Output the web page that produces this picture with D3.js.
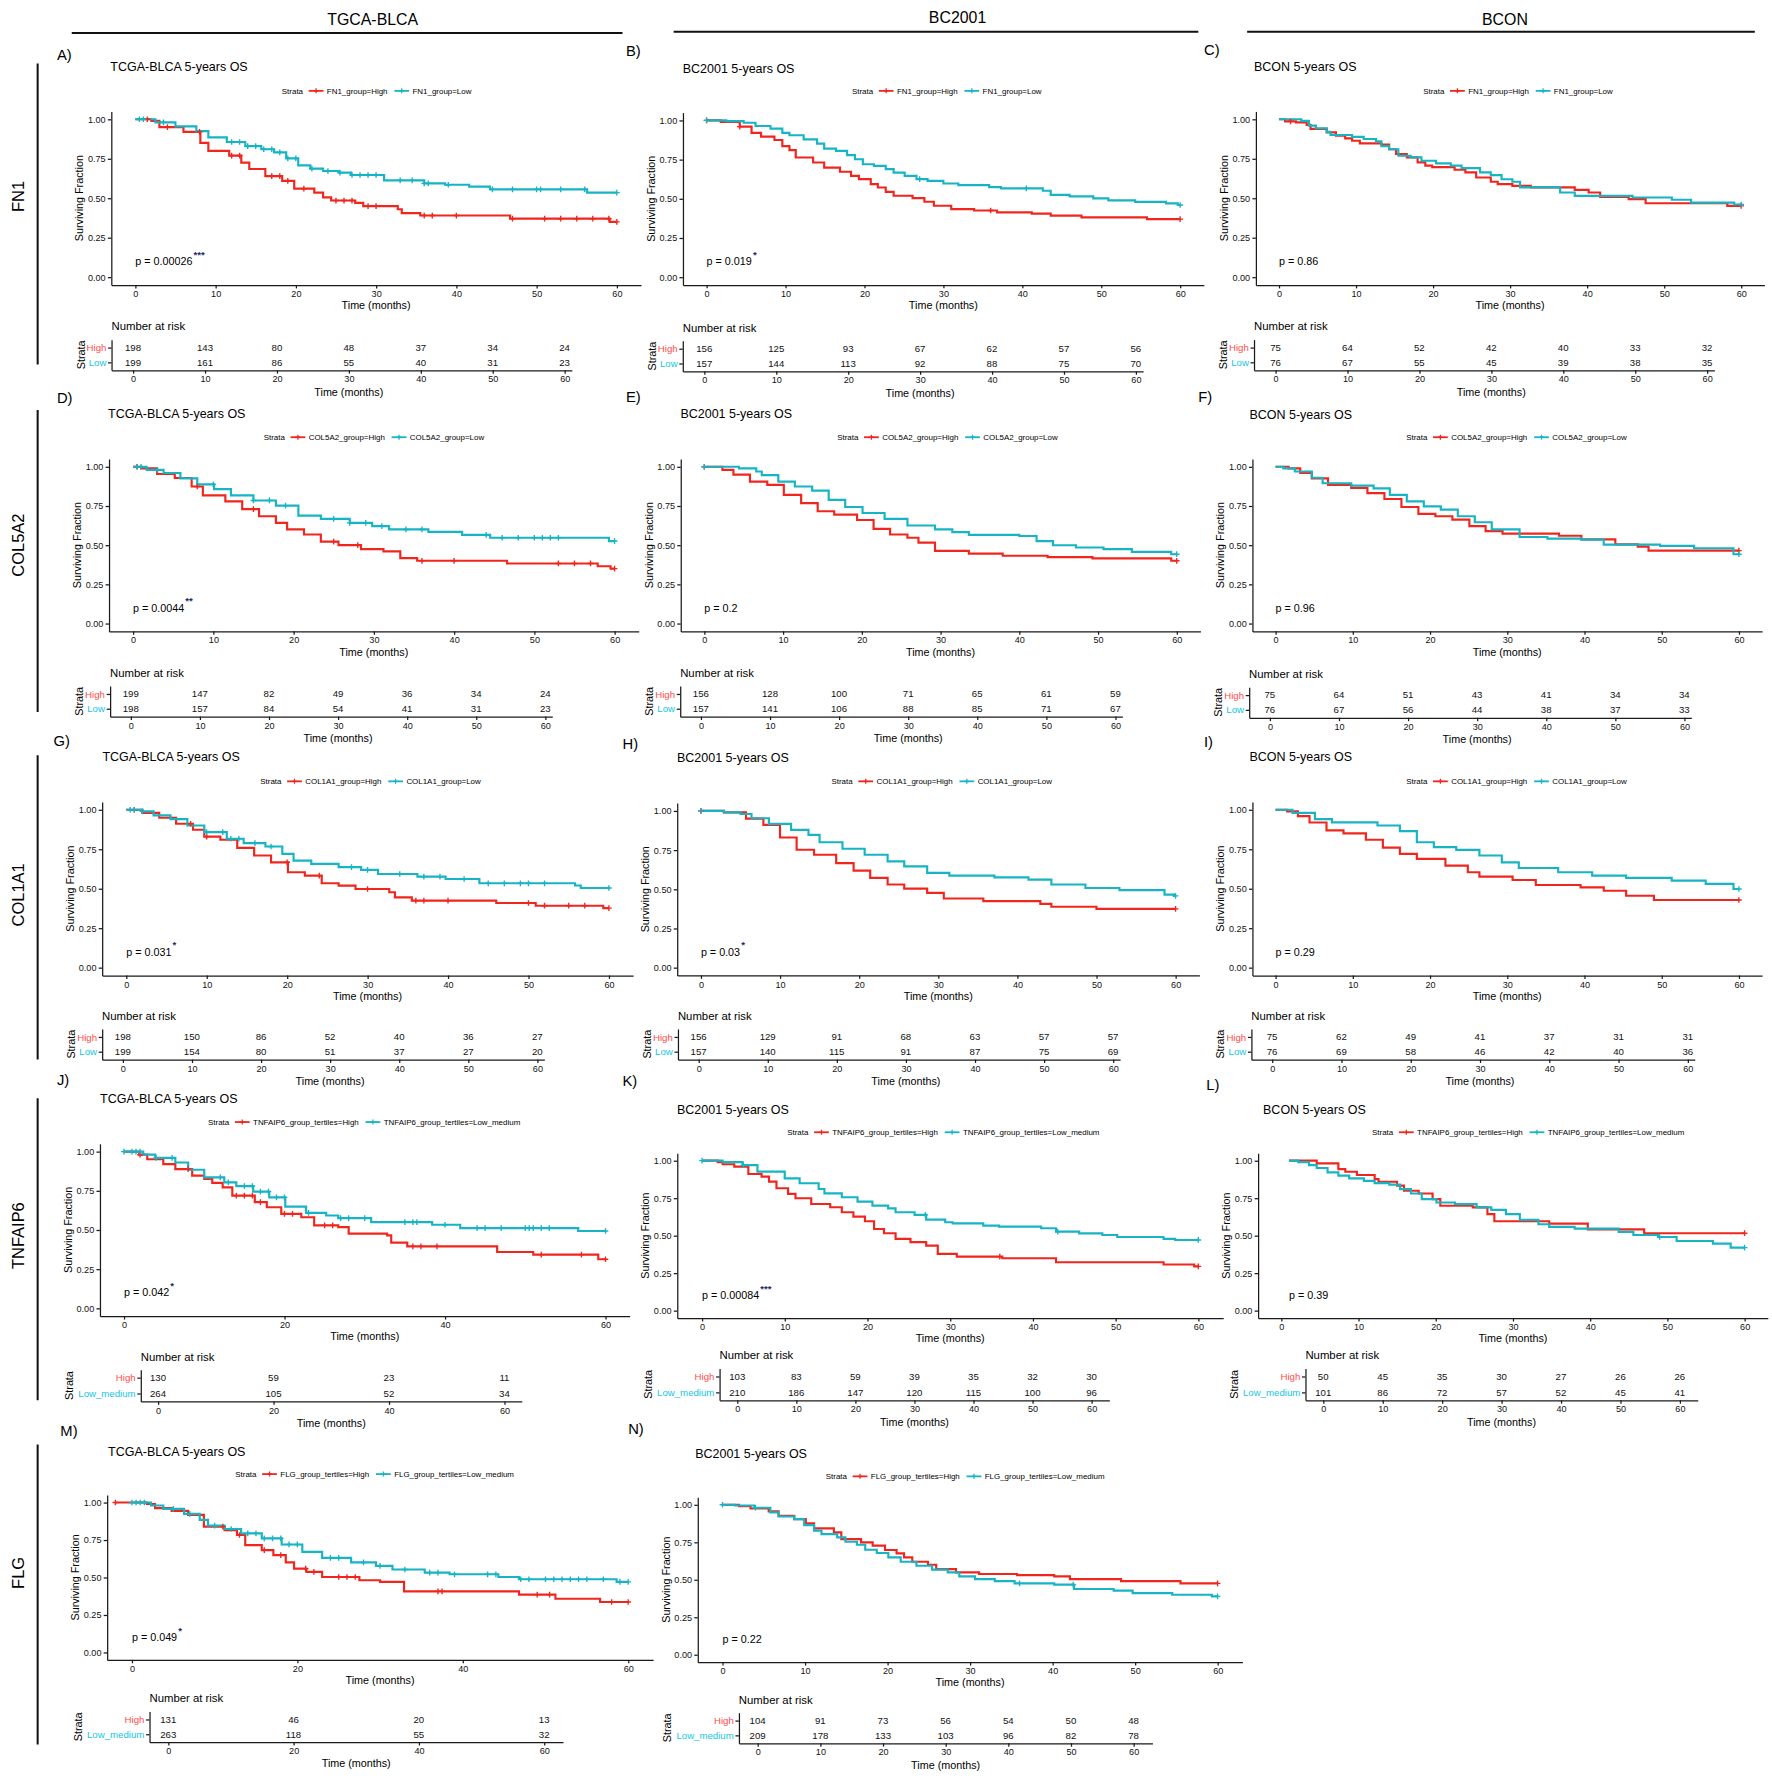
<!DOCTYPE html>
<html>
<head>
<meta charset="utf-8">
<script src="https://cdn.jsdelivr.net/npm/d3@7"></script>
<style>
  body { margin: 0; background: #fff; }
</style>
</head>
<body>
<div id="root"></div>
<script>
// ---- tick values / labels ----
const riskTimes = [0, 10, 20, 30, 40, 50, 60]
const riskTimesWide = [0, 20, 40, 60]
const yTicks = [0, 0.25, 0.5, 0.75, 1]
const cohorts = ['TGCA-BLCA', 'BC2001', 'BCON']
const cohortTitles = ['TCGA-BLCA', 'BC2001', 'BCON']
const genes = ['FN1', 'COL5A2', 'COL1A1', 'TNFAIP6', 'FLG']

// ---- KM curves: [months, surviving fraction], step after ----
const fn1TcgaHigh = [[0,1],[2,0.99],[3,0.95],[6,0.92],[8.1,0.85],[9.1,0.8],[11.7,0.77],[13.2,0.725],[14.2,0.685],[16.2,0.64],[18.3,0.61],[19.8,0.56],[22.3,0.535],[23.4,0.505],[24.4,0.485],[27.4,0.47],[28.4,0.45],[32.7,0.43],[33.2,0.405],[35.5,0.39],[46.7,0.37],[59.1,0.35],[60,0.35]]
const fn1TcgaLow = [[0,1],[2.5,0.98],[5,0.955],[7.6,0.925],[9.1,0.885],[11.4,0.856],[13.7,0.83],[15.7,0.81],[17.3,0.79],[18.8,0.752],[20.3,0.708],[21.8,0.687],[23.4,0.672],[25.4,0.662],[26.9,0.647],[31,0.613],[36,0.594],[38.6,0.585],[41.6,0.573],[44.2,0.556],[56.3,0.535],[60,0.535]]
const fn1BcHigh = [[0,1],[1.8,0.99],[4.2,0.96],[5.7,0.92],[6.9,0.896],[8.6,0.875],[9.6,0.836],[10.5,0.81],[11.3,0.763],[13.5,0.731],[14.9,0.699],[16.9,0.672],[18.3,0.646],[19.3,0.625],[20.8,0.593],[21.7,0.572],[22.7,0.544],[23.7,0.519],[26.1,0.504],[27.6,0.481],[28.8,0.455],[31,0.434],[33.9,0.425],[36.8,0.413],[41.2,0.405],[43.6,0.392],[47.5,0.381],[55.8,0.37],[60,0.37]]
const fn1BcLow = [[0,1],[2.5,0.995],[4.7,0.985],[6.2,0.964],[8.1,0.947],[9.6,0.92],[10.5,0.905],[12.3,0.879],[14,0.852],[14.9,0.82],[16.4,0.805],[17.8,0.778],[18.8,0.752],[19.8,0.72],[21.2,0.71],[22.7,0.689],[23.7,0.667],[25.1,0.646],[26.6,0.625],[28,0.614],[30,0.597],[31.9,0.587],[35.8,0.574],[37.3,0.566],[42.6,0.551],[43.6,0.525],[46,0.515],[49,0.502],[50.9,0.49],[54.3,0.48],[58.2,0.47],[59.7,0.46],[60,0.46]]
const fn1BconHigh = [[0,1],[0.8,0.987],[2.2,0.98],[3.6,0.964],[4.1,0.939],[6.2,0.917],[7.4,0.896],[8.6,0.879],[9.5,0.864],[10.5,0.847],[13.3,0.839],[14.3,0.81],[15.2,0.78],[16.6,0.758],[18,0.727],[19,0.706],[19.9,0.697],[22.8,0.68],[24.2,0.663],[25.6,0.631],[27.5,0.604],[28.4,0.589],[30.3,0.578],[32.7,0.568],[38.4,0.553],[40.2,0.536],[41.7,0.508],[45.4,0.494],[47.6,0.468],[58.2,0.451],[60,0.451]]
const fn1BconLow = [[0,1],[2.9,0.99],[3.9,0.96],[4.8,0.943],[6.2,0.92],[6.7,0.9],[9.5,0.888],[11,0.875],[12.6,0.86],[13.3,0.83],[14.3,0.81],[15.5,0.769],[17.1,0.758],[18.5,0.737],[20.4,0.72],[22.3,0.706],[23.7,0.69],[26.1,0.663],[27.5,0.646],[28.9,0.62],[30.3,0.604],[31.3,0.568],[36.5,0.536],[38.4,0.515],[45.9,0.504],[51,0.49],[53.5,0.472],[59.1,0.46],[60,0.46]]

const col5a2TcgaHigh = [[0,1],[1,0.99],[3,0.954],[5.2,0.928],[7.3,0.874],[8.7,0.817],[11.5,0.779],[13.6,0.73],[15.7,0.684],[17.8,0.642],[19.2,0.6],[21.3,0.568],[23.4,0.522],[25.6,0.5],[28.4,0.474],[31.2,0.46],[33.3,0.417],[35.4,0.4],[46.6,0.383],[57.9,0.365],[59.5,0.35],[60,0.35]]
const col5a2TcgaLow = [[0,1],[1.7,0.98],[3.8,0.96],[5.9,0.926],[8,0.888],[10.1,0.857],[12.2,0.817],[15,0.785],[17.8,0.752],[20.6,0.688],[23.4,0.667],[27,0.642],[29.8,0.621],[31.9,0.6],[36.8,0.585],[41,0.565],[44.5,0.547],[59.3,0.526],[60,0.526]]
const col5a2BcHigh = [[0,1],[2.3,0.98],[3.7,0.95],[5.8,0.905],[8,0.884],[10.1,0.821],[12.3,0.768],[14.4,0.716],[16.5,0.695],[19.4,0.66],[21.5,0.604],[23.6,0.568],[25.8,0.547],[27.2,0.516],[29.3,0.463],[33.6,0.446],[37.9,0.432],[43.6,0.423],[49.3,0.415],[59.3,0.4],[60,0.4]]
const col5a2BcLow = [[0,1],[4.4,0.99],[6.6,0.97],[7.3,0.947],[9.4,0.905],[11.5,0.874],[13.7,0.848],[15.8,0.789],[17.9,0.743],[20.1,0.705],[22.9,0.667],[25.8,0.625],[29.3,0.6],[31.5,0.583],[33.6,0.565],[40,0.558],[42.2,0.526],[44.3,0.499],[47.2,0.485],[50.7,0.474],[54.3,0.457],[59.3,0.442],[60,0.442]]
const col5a2BconHigh = [[0,1],[1.7,0.99],[3.2,0.96],[4.7,0.926],[6.8,0.884],[9.8,0.865],[11.9,0.832],[14.1,0.794],[16.3,0.743],[18.5,0.699],[20.7,0.684],[22.9,0.663],[25.1,0.621],[27.2,0.589],[29.4,0.573],[36.7,0.56],[39.6,0.537],[44,0.505],[46.9,0.49],[48.3,0.465],[60,0.465]]
const col5a2BconLow = [[0,1],[1,0.99],[2.5,0.97],[4.7,0.93],[6.1,0.895],[9.8,0.88],[12.7,0.862],[14.8,0.821],[17,0.779],[19.2,0.747],[21.4,0.726],[23.6,0.684],[25.8,0.646],[28,0.6],[31.6,0.552],[35.2,0.541],[39.6,0.535],[42.5,0.503],[49.8,0.495],[54.2,0.48],[59.3,0.442],[60,0.442]]

const col1a1TcgaHigh = [[0,1],[2,0.98],[4.1,0.949],[6.2,0.911],[8.3,0.873],[9.7,0.83],[11.7,0.81],[13.8,0.758],[15.9,0.71],[18,0.667],[20.1,0.604],[22.2,0.583],[24.3,0.534],[26.4,0.519],[28.5,0.498],[32.7,0.477],[33.4,0.445],[35.5,0.424],[46,0.409],[50.9,0.392],[59.3,0.377],[60,0.377]]
const col1a1TcgaLow = [[0,1],[2,0.99],[3.4,0.964],[5.5,0.94],[7.6,0.9],[9.7,0.858],[12.5,0.816],[14.6,0.788],[17.3,0.767],[19.4,0.72],[20.8,0.678],[23,0.657],[26.4,0.636],[29.2,0.619],[31.3,0.593],[36.2,0.576],[39.7,0.561],[43.9,0.534],[55.8,0.52],[56.5,0.504],[60,0.504]]
const col1a1BcHigh = [[0,1],[2.9,0.99],[5.7,0.95],[7.9,0.911],[10,0.83],[12.1,0.752],[14.3,0.72],[17.1,0.667],[19.3,0.619],[21.4,0.572],[23.6,0.53],[25.7,0.504],[28.6,0.477],[30.7,0.441],[35.7,0.424],[42.9,0.407],[44.3,0.388],[50,0.375],[60,0.375]]
const col1a1BcLow = [[0,1],[2.9,0.99],[5,0.98],[6.4,0.953],[8.6,0.917],[11.4,0.879],[13.6,0.847],[15,0.8],[17.9,0.758],[20.7,0.72],[23.6,0.678],[25.7,0.646],[28.6,0.604],[31.4,0.587],[37.1,0.576],[41.4,0.561],[44.3,0.53],[48.6,0.508],[52.9,0.494],[58.6,0.466],[59.8,0.458],[60,0.458]]
const col1a1BconHigh = [[0,1],[1.5,0.99],[2.9,0.96],[4.4,0.919],[6.6,0.869],[8.8,0.85],[11.7,0.81],[13.9,0.76],[16.1,0.72],[18.3,0.689],[22,0.646],[24.9,0.604],[26.4,0.576],[30.7,0.555],[33.7,0.523],[39.5,0.508],[42.5,0.487],[45.4,0.455],[49,0.428],[60,0.428]]
const col1a1BconLow = [[0,1],[2.2,0.98],[5.1,0.94],[7.3,0.92],[13.2,0.9],[16.1,0.864],[18.3,0.794],[20.5,0.763],[23.4,0.746],[26.4,0.71],[29.3,0.667],[31.5,0.631],[36.6,0.604],[41,0.583],[45.4,0.568],[51.3,0.551],[55.7,0.53],[59.3,0.498],[60,0.498]]

const tnfTcgaHigh = [[0,1],[1.9,0.98],[2.9,0.951],[4.9,0.92],[6.4,0.888],[8.5,0.846],[10,0.825],[11,0.8],[12.3,0.772],[13.5,0.719],[16.3,0.677],[17.8,0.645],[19.6,0.602],[22.1,0.581],[23.7,0.529],[26.7,0.518],[28,0.476],[32.8,0.465],[33.3,0.419],[35.3,0.395],[46.5,0.359],[51,0.342],[59.1,0.313],[60,0.313]]
const tnfTcgaLow = [[0,1],[2.4,0.98],[3.9,0.96],[6.4,0.93],[8,0.884],[10,0.835],[12.5,0.803],[14,0.78],[16.1,0.744],[18.1,0.708],[20.1,0.649],[22.7,0.609],[25.2,0.592],[26.7,0.575],[30.8,0.55],[38.4,0.533],[41.9,0.512],[56.6,0.493],[60,0.493]]
const tnfBcHigh = [[0,1],[1.9,0.99],[2.5,0.976],[3.9,0.96],[5.6,0.911],[7.2,0.893],[8.1,0.86],[9,0.816],[10.4,0.778],[11.3,0.749],[13.2,0.711],[15.5,0.689],[16.9,0.656],[18.3,0.627],[19.7,0.596],[20.8,0.544],[22,0.516],[23.4,0.478],[25.2,0.456],[27.1,0.433],[28.5,0.378],[30.8,0.36],[36.3,0.349],[42.8,0.322],[55.8,0.307],[59.5,0.295],[60,0.295]]
const tnfBcLow = [[0,1],[2.5,0.99],[4.9,0.97],[6.7,0.927],[10,0.882],[11.8,0.849],[14.1,0.811],[14.8,0.782],[16.9,0.756],[18.8,0.727],[20.6,0.7],[22.5,0.682],[23.4,0.656],[25.7,0.638],[27.1,0.607],[29.4,0.589],[30.3,0.582],[34,0.567],[35.9,0.56],[41,0.549],[42.8,0.527],[45.6,0.515],[48.4,0.504],[50.2,0.491],[55.8,0.478],[57.2,0.471],[60,0.471]]
const tnfBconHigh = [[1,1],[4.6,0.982],[7.4,0.944],[8.3,0.926],[9.8,0.904],[12.1,0.877],[12.6,0.859],[15,0.833],[15.9,0.799],[17.8,0.781],[19.6,0.743],[20.6,0.699],[24.8,0.688],[26.7,0.643],[27.6,0.596],[34.7,0.58],[39.7,0.542],[47,0.516],[60,0.516]]
const tnfBconLow = [[1,1],[2.2,0.99],[3.6,0.97],[4.6,0.951],[6,0.922],[7.4,0.9],[8.8,0.882],[10.7,0.865],[12.1,0.85],[14,0.84],[15.4,0.81],[16.8,0.781],[18.2,0.743],[20.1,0.721],[22.5,0.71],[25.3,0.688],[27.2,0.672],[29.1,0.643],[30.9,0.605],[33.3,0.576],[34.7,0.558],[38,0.547],[43.7,0.525],[45.6,0.504],[48.8,0.491],[51.2,0.464],[55.9,0.446],[58.2,0.42],[60,0.42]]

const flgTcgaHigh = [[-2,1],[1.8,0.99],[2.8,0.962],[4.8,0.944],[6.8,0.917],[8.7,0.839],[11.2,0.816],[12.7,0.783],[13.7,0.716],[15.7,0.682],[17.1,0.649],[18.6,0.6],[19.6,0.559],[21.1,0.537],[23,0.503],[27.5,0.481],[30,0.47],[32.9,0.407],[46.8,0.385],[51.2,0.358],[56.6,0.336],[60,0.336]]
const flgTcgaLow = [[0.3,1],[2.3,0.98],[3.8,0.957],[6.3,0.924],[8.2,0.884],[9.2,0.846],[11.2,0.823],[13.2,0.794],[15.7,0.761],[18.1,0.72],[20.6,0.671],[23,0.631],[26.5,0.6],[29.5,0.577],[31.5,0.553],[35.4,0.532],[38.4,0.521],[44.3,0.503],[46.8,0.488],[58.6,0.47],[60,0.47]]
const flgBcHigh = [[0,1],[2,0.99],[3.4,0.975],[5.6,0.956],[6.8,0.927],[8.7,0.904],[10.1,0.876],[11.1,0.842],[13.5,0.816],[14.4,0.771],[16.8,0.749],[18.2,0.727],[19.7,0.698],[21.1,0.676],[22,0.649],[23,0.62],[24.9,0.6],[25.9,0.571],[28.3,0.549],[31.1,0.538],[35.7,0.531],[40.2,0.522],[42.1,0.504],[48.3,0.491],[55.5,0.476],[60,0.476]]
const flgBcLow = [[0,1],[1.5,0.995],[3.9,0.98],[5.8,0.949],[6.8,0.922],[8.7,0.904],[9.9,0.864],[11.1,0.827],[12,0.804],[13.9,0.782],[14.9,0.753],[16.3,0.733],[17.3,0.7],[18.7,0.678],[20.1,0.649],[21.6,0.62],[23.5,0.593],[25.4,0.567],[27.3,0.549],[28.7,0.522],[30.6,0.504],[33,0.491],[35.4,0.476],[40.2,0.467],[42.6,0.438],[47.4,0.427],[49.7,0.411],[54.5,0.4],[59.3,0.389],[60,0.389]]

// ---- censor times (months) ----
const censFn1TcgaHigh = [1.5, 4, 8, 12, 13, 17, 18, 19, 21, 25, 26, 27, 29, 30, 36, 37, 40, 47, 51, 53, 55, 57, 59, 60]
const censFn1TcgaLow = [0.5, 1, 3.5, 12, 13, 14, 15, 16, 17, 18, 19, 20, 22, 24, 25.5, 27, 28, 29, 30, 33, 34.5, 36, 36.5, 39, 44.5, 47, 50, 50.5, 53, 56, 60]
const censFn1BcHigh = [0, 4.2, 36, 60]
const censFn1BcLow = [0, 27, 40.5, 60]
const censFn1BconHigh = [1.5, 60]
const censFn1BconLow = [60]
const censCol5a2TcgaHigh = [0.5, 8, 15, 25, 28, 36, 40, 53, 55, 57, 60]
const censCol5a2TcgaLow = [0.5, 1, 3, 10, 15, 17, 19, 25, 27, 29, 31, 34, 36, 44, 46, 48, 50, 51, 52, 53, 60]
const censCol5a2BcHigh = [0, 60]
const censCol5a2BcLow = [0, 60]
const censCol5a2BconHigh = [60]
const censCol5a2BconLow = [60]
const censCol1a1TcgaHigh = [1, 8, 10, 20, 24, 30, 36, 37, 40, 50, 52, 55, 57, 60]
const censCol1a1TcgaLow = [0.5, 1, 2, 10, 12, 13, 14, 16, 18, 28, 30, 34, 37, 39, 42, 45, 47, 49, 50, 52, 60]
const censCol1a1BcHigh = [0, 60]
const censCol1a1BcLow = [0, 60]
const censCol1a1BconHigh = [60]
const censCol1a1BconLow = [60]
const censTnfTcgaHigh = [2, 8, 14, 15, 16, 17, 20, 21, 25, 26, 36, 37, 39, 52, 57, 60]
const censTnfTcgaLow = [0, 1, 1.5, 2, 4, 6, 12, 13, 15, 16, 17, 18, 19, 20, 23, 27, 28, 30, 35, 36, 36.5, 40, 44, 45, 47, 50, 50.5, 51, 52, 53, 60]
const censTnfBcHigh = [36, 60]
const censTnfBcLow = [0, 5, 27, 43, 60]
const censTnfBconHigh = [60]
const censTnfBconLow = [49, 60]
const censFlgTcgaHigh = [-2, 11, 13, 16, 18, 21, 22, 25, 26, 27, 37, 37.5, 49, 50.5, 58, 60]
const censFlgTcgaLow = [0, 0.5, 1, 1.5, 5, 7, 10, 12, 14, 15, 16, 17, 18, 19, 20, 24, 25, 28, 30, 33, 36, 37, 39, 43, 44, 47, 48, 50, 51, 52, 53, 54, 55, 57, 59, 60]
const censFlgBcHigh = [60]
const censFlgBcLow = [0, 4, 36, 42.5, 60]

// ---- numbers at risk ----
const riskFn1TcgaHigh = [198, 143, 80, 48, 37, 34, 24]
const riskFn1TcgaLow = [199, 161, 86, 55, 40, 31, 23]
const riskFn1BcHigh = [156, 125, 93, 67, 62, 57, 56]
const riskFn1BcLow = [157, 144, 113, 92, 88, 75, 70]
const riskFn1BconHigh = [75, 64, 52, 42, 40, 33, 32]
const riskFn1BconLow = [76, 67, 55, 45, 39, 38, 35]
const riskCol5a2TcgaHigh = [199, 147, 82, 49, 36, 34, 24]
const riskCol5a2TcgaLow = [198, 157, 84, 54, 41, 31, 23]
const riskCol5a2BcHigh = [156, 128, 100, 71, 65, 61, 59]
const riskCol5a2BcLow = [157, 141, 106, 88, 85, 71, 67]
const riskCol5a2BconHigh = [75, 64, 51, 43, 41, 34, 34]
const riskCol5a2BconLow = [76, 67, 56, 44, 38, 37, 33]
const riskCol1a1TcgaHigh = [198, 150, 86, 52, 40, 36, 27]
const riskCol1a1TcgaLow = [199, 154, 80, 51, 37, 27, 20]
const riskCol1a1BcHigh = [156, 129, 91, 68, 63, 57, 57]
const riskCol1a1BcLow = [157, 140, 115, 91, 87, 75, 69]
const riskCol1a1BconHigh = [75, 62, 49, 41, 37, 31, 31]
const riskCol1a1BconLow = [76, 69, 58, 46, 42, 40, 36]
const riskTnfTcgaHigh = [130, 59, 23, 11]
const riskTnfTcgaLow = [264, 105, 52, 34]
const riskTnfBcHigh = [103, 83, 59, 39, 35, 32, 30]
const riskTnfBcLow = [210, 186, 147, 120, 115, 100, 96]
const riskTnfBconHigh = [50, 45, 35, 30, 27, 26, 26]
const riskTnfBconLow = [101, 86, 72, 57, 52, 45, 41]
const riskFlgTcgaHigh = [131, 46, 20, 13]
const riskFlgTcgaLow = [263, 118, 55, 32]
const riskFlgBcHigh = [104, 91, 73, 56, 54, 50, 48]
const riskFlgBcLow = [209, 178, 133, 103, 96, 82, 78]

// ---- log-rank p values ----
const pValues = ['p = 0.00026', 'p = 0.019', 'p = 0.86', 'p = 0.0044', 'p = 0.2', 'p = 0.96', 'p = 0.031', 'p = 0.03', 'p = 0.29', 'p = 0.042', 'p = 0.00084', 'p = 0.39', 'p = 0.049', 'p = 0.22']
const pStars = ['***', '*', '', '**', '', '', '*', '*', '', '*', '***', '', '*', '']

const series = [
  [fn1TcgaHigh, fn1TcgaLow, censFn1TcgaHigh, censFn1TcgaLow, riskFn1TcgaHigh, riskFn1TcgaLow],
  [fn1BcHigh, fn1BcLow, censFn1BcHigh, censFn1BcLow, riskFn1BcHigh, riskFn1BcLow],
  [fn1BconHigh, fn1BconLow, censFn1BconHigh, censFn1BconLow, riskFn1BconHigh, riskFn1BconLow],
  [col5a2TcgaHigh, col5a2TcgaLow, censCol5a2TcgaHigh, censCol5a2TcgaLow, riskCol5a2TcgaHigh, riskCol5a2TcgaLow],
  [col5a2BcHigh, col5a2BcLow, censCol5a2BcHigh, censCol5a2BcLow, riskCol5a2BcHigh, riskCol5a2BcLow],
  [col5a2BconHigh, col5a2BconLow, censCol5a2BconHigh, censCol5a2BconLow, riskCol5a2BconHigh, riskCol5a2BconLow],
  [col1a1TcgaHigh, col1a1TcgaLow, censCol1a1TcgaHigh, censCol1a1TcgaLow, riskCol1a1TcgaHigh, riskCol1a1TcgaLow],
  [col1a1BcHigh, col1a1BcLow, censCol1a1BcHigh, censCol1a1BcLow, riskCol1a1BcHigh, riskCol1a1BcLow],
  [col1a1BconHigh, col1a1BconLow, censCol1a1BconHigh, censCol1a1BconLow, riskCol1a1BconHigh, riskCol1a1BconLow],
  [tnfTcgaHigh, tnfTcgaLow, censTnfTcgaHigh, censTnfTcgaLow, riskTnfTcgaHigh, riskTnfTcgaLow],
  [tnfBcHigh, tnfBcLow, censTnfBcHigh, censTnfBcLow, riskTnfBcHigh, riskTnfBcLow],
  [tnfBconHigh, tnfBconLow, censTnfBconHigh, censTnfBconLow, riskTnfBconHigh, riskTnfBconLow],
  [flgTcgaHigh, flgTcgaLow, censFlgTcgaHigh, censFlgTcgaLow, riskFlgTcgaHigh, riskFlgTcgaLow],
  [flgBcHigh, flgBcLow, censFlgBcHigh, censFlgBcLow, riskFlgBcHigh, riskFlgBcLow]
]

// ---- panel placement (drawing units of a 1560x1570 view box) ----
// plot: [x of t=0, x of t=60, y of S=1, y of S=0]; table: [x of t=0, x of t=60, y High row, y Low row]
const layout = [
  {id: 'A', gene: 0, cohort: 0, letter: [50, 48], title: [97, 59], legend: [248, 80], plot: [119, 543, 105, 244], table: [117, 497, 306, 319]},
  {id: 'B', gene: 0, cohort: 1, letter: [551, 45], title: [601, 60], legend: [750, 80], plot: [622, 1039, 106, 244], table: [620, 1000, 307, 320]},
  {id: 'C', gene: 0, cohort: 2, letter: [1060, 44], title: [1104, 59], legend: [1253, 80], plot: [1126, 1533, 105, 244], table: [1123, 1503, 306, 319]},
  {id: 'D', gene: 1, cohort: 0, letter: [50, 350], title: [95, 364], legend: [232, 385], plot: [117, 541, 411, 549], table: [115, 480, 611, 624]},
  {id: 'E', gene: 1, cohort: 1, letter: [551, 349], title: [599, 364], legend: [737, 385], plot: [620, 1036, 411, 549], table: [617, 982, 611, 624]},
  {id: 'F', gene: 1, cohort: 2, letter: [1055, 349], title: [1100, 365], legend: [1238, 385], plot: [1123, 1531, 411, 549], table: [1118, 1483, 612, 625]},
  {id: 'G', gene: 2, cohort: 0, letter: [47, 652], title: [90, 666], legend: [229, 688], plot: [111, 536, 713, 852], table: [108, 473, 913, 926]},
  {id: 'H', gene: 2, cohort: 1, letter: [548, 655], title: [596, 667], legend: [732, 688], plot: [617, 1035, 714, 852], table: [615, 980, 913, 926]},
  {id: 'I', gene: 2, cohort: 2, letter: [1060, 653], title: [1100, 666], legend: [1238, 688], plot: [1123, 1531, 713, 852], table: [1120, 1486, 913, 926]},
  {id: 'J', gene: 3, cohort: 0, letter: [50, 951], title: [88, 967], legend: [183, 988], plot: [109, 533, 1014, 1152], table: [139, 444, 1213, 1227], ticks: riskTimesWide},
  {id: 'K', gene: 3, cohort: 1, letter: [548, 952], title: [596, 977], legend: [693, 997], plot: [618, 1055, 1022, 1154], table: [649, 961, 1212, 1226]},
  {id: 'L', gene: 3, cohort: 2, letter: [1062, 955], title: [1112, 977], legend: [1208, 997], plot: [1128, 1536, 1022, 1154], table: [1165, 1479, 1212, 1226], pT: 1},
  {id: 'M', gene: 4, cohort: 0, letter: [53, 1260], title: [95, 1278], legend: [207, 1298], plot: [116, 553, 1323, 1455], table: [148, 479, 1514, 1527], ticks: riskTimesWide},
  {id: 'N', gene: 4, cohort: 1, letter: [553, 1258], title: [612, 1280], legend: [727, 1300], plot: [636, 1072, 1325, 1457], table: [667, 998, 1515, 1528]}
]

// column headers / row labels placement
const headerPos = [[328, 17, 63, 548, 29], [843, 15, 593, 1055, 28], [1325, 17, 1098, 1545, 28]]
const rowPos = [[173, 56, 321], [480, 361, 627], [788, 665, 933], [1088, 967, 1233], [1385, 1272, 1536]]

const curveColors = ['#F0261E', '#17B4C4']
const labelColors = ['#FF4A4A', '#12C6E2']
const FONT = '"Liberation Sans", Arial, Helvetica, sans-serif'

const svg = d3.select('#root').append('svg')
  .attr('width', 1772).attr('height', 1783)
  .attr('viewBox', '0 0 1560 1570')
  .attr('font-family', FONT)
svg.append('rect').attr('width', 1560).attr('height', 1570).attr('fill', '#fff')

// headers
cohorts.forEach((c, i) => {
  const [cx, cy, x1, x2, ly] = headerPos[i]
  svg.append('text').attr('x', cx).attr('y', cy).attr('dy', '0.35em')
     .attr('text-anchor', 'middle').attr('font-size', 14).text(c)
  svg.append('line').attr('x1', x1).attr('x2', x2).attr('y1', ly).attr('y2', ly)
     .attr('stroke', '#111').attr('stroke-width', 1.8)
})
genes.forEach((gname, i) => {
  const [cy, y1, y2] = rowPos[i]
  svg.append('text').attr('transform', `translate(16,${cy}) rotate(-90)`).attr('dy', '0.35em')
     .attr('text-anchor', 'middle').attr('font-size', 14.5).text(gname)
  svg.append('line').attr('x1', 33).attr('x2', 33).attr('y1', y1).attr('y2', y2)
     .attr('stroke', '#111').attr('stroke-width', 1.8)
})

function styleAxis(sel, size) {
  sel.selectAll('path, line').attr('stroke', '#1a1a1a').attr('stroke-width', 1.1)
  sel.selectAll('text').attr('font-size', size).attr('font-family', FONT).attr('fill', '#111')
}

function stepValue(curve, t) {
  const i = d3.bisector(d => d[0]).right(curve, t) - 1
  return curve[Math.max(0, i)][1]
}

const plus = (cx, cy, r) => `M${cx - r},${cy}H${cx + r}M${cx},${cy - r}V${cy + r}`

function drawPanel(cfg, k) {
  const [high, low, censHigh, censLow, riskHigh, riskLow] = series[k]
  const g = svg.append('g')
  const wide = cfg.gene >= 3
  const gname = genes[cfg.gene]
  const ticks = cfg.ticks || riskTimes

  const [px0, px60, py1, py0] = cfg.plot
  const x = d3.scaleLinear().domain([0, 60]).range([px0, px60])
  const y = d3.scaleLinear().domain([0, 1]).range([py0, py1])
  const xa = d3.scaleLinear().domain([-3, 63]).range([x(-3), x(63)])
  const ya = d3.scaleLinear().domain([-0.05, 1.05]).range([y(-0.05), y(1.05)])

  g.append('text').attr('x', cfg.letter[0]).attr('y', cfg.letter[1]).attr('dy', '0.35em')
   .attr('font-size', 13).text(cfg.id + ')')
  g.append('text').attr('x', cfg.title[0]).attr('y', cfg.title[1]).attr('dy', '0.35em')
   .attr('font-size', 11).text(cohortTitles[cfg.cohort] + ' 5-years OS')

  // legend
  const labels = wide
    ? [gname + '_group_tertiles=High', gname + '_group_tertiles=Low_medium']
    : [gname + '_group=High', gname + '_group=Low']
  let lx = cfg.legend[0]
  const ly = cfg.legend[1]
  const st = g.append('text').attr('x', lx).attr('y', ly).attr('dy', '0.35em').attr('font-size', 7).text('Strata')
  lx += st.node().getComputedTextLength() + 5
  labels.forEach((lab, i) => {
    g.append('line').attr('x1', lx).attr('x2', lx + 13).attr('y1', ly).attr('y2', ly)
     .attr('stroke', curveColors[i]).attr('stroke-width', 1.6)
    g.append('path').attr('d', plus(lx + 6.5, ly, 2.2)).attr('stroke', curveColors[i]).attr('stroke-width', 1.1)
    lx += 16
    const t = g.append('text').attr('x', lx).attr('y', ly).attr('dy', '0.35em').attr('font-size', 7).text(lab)
    lx += t.node().getComputedTextLength() + 6
  })

  // axes
  g.append('g').attr('transform', `translate(0,${ya(-0.05)})`)
   .call(d3.axisBottom(xa).tickValues(ticks).tickSize(3).tickSizeOuter(0).tickPadding(2))
   .call(s => styleAxis(s, 8))
  g.append('g').attr('transform', `translate(${xa(-3)},0)`)
   .call(d3.axisLeft(ya).tickValues(yTicks).tickFormat(d3.format('.2f')).tickSize(3).tickSizeOuter(0).tickPadding(2))
   .call(s => styleAxis(s, 8))
  g.append('text').attr('x', x(30)).attr('y', ya(-0.05) + 18).attr('dy', '0.35em')
   .attr('text-anchor', 'middle').attr('font-size', 9.5).text('Time (months)')
  g.append('text').attr('transform', `translate(${xa(-3) - 28},${y(0.5)}) rotate(-90)`).attr('dy', '0.35em')
   .attr('text-anchor', 'middle').attr('font-size', 9.5).text('Surviving Fraction')

  // curves and censor marks
  const line = d3.line().x(d => x(d[0])).y(d => y(d[1])).curve(d3.curveStepAfter)
  ;[high, low].forEach((c, i) => {
    g.append('path').attr('d', line(c)).attr('fill', 'none')
     .attr('stroke', curveColors[i]).attr('stroke-width', 1.9)
  })
  ;[[high, censHigh], [low, censLow]].forEach(([c, cens], i) => {
    g.selectAll(null).data(cens).join('path')
     .attr('d', t => plus(x(t), y(stepValue(c, t)), 2.5))
     .attr('stroke', curveColors[i]).attr('stroke-width', 1.2)
  })

  // p value
  const pxPos = x(cfg.pT || 0)
  const pt = g.append('text').attr('x', pxPos).attr('y', y(0.1)).attr('dy', '0.35em')
   .attr('font-size', 9.5).text(pValues[k])
  if (pStars[k]) {
    g.append('text').attr('x', pxPos + pt.node().getComputedTextLength() + 1).attr('y', y(0.1) - 6)
     .attr('dy', '0.35em').attr('font-size', 8.5).attr('font-weight', 'bold').attr('fill', '#1c2a66').text(pStars[k])
  }

  // risk table
  const [tx0, tx60, yH, yL] = cfg.table
  const tx = d3.scaleLinear().domain([0, 60]).range([tx0, tx60])
  const tRight = wide ? 63 : 61
  const txa = d3.scaleLinear().domain([-3, tRight]).range([tx(-3), tx(tRight)])
  const axisY = yL + 7
  const strata = wide ? ['High', 'Low_medium'] : ['High', 'Low']
  const ty = d3.scalePoint().domain(strata).range([yH - 7, axisY]).padding(7 / (yL - yH))

  g.append('text').attr('x', tx(-3)).attr('y', yH - 18.5).attr('dy', '0.35em')
   .attr('font-size', 10).text('Number at risk')

  ;[riskHigh, riskLow].forEach((vals, i) => {
    g.selectAll(null).data(vals).join('text')
     .attr('x', (v, j) => tx(ticks[j])).attr('y', ty(strata[i])).attr('dy', '0.35em')
     .attr('text-anchor', 'middle').attr('font-size', 8.5).attr('fill', '#111').text(v => v)
  })

  g.append('g').attr('transform', `translate(0,${axisY})`)
   .call(d3.axisBottom(txa).tickValues(ticks).tickSize(3).tickSizeOuter(0).tickPadding(2))
   .call(s => styleAxis(s, 8))
  g.append('g').attr('transform', `translate(${tx(-3)},0)`)
   .call(d3.axisLeft(ty).tickSize(3).tickSizeOuter(0).tickPadding(1.5))
   .call(s => styleAxis(s, 8.5))
   .call(s => s.selectAll('.tick text').attr('fill', (d, i) => labelColors[i]))
  g.append('text').attr('transform', `translate(${tx(-3) - (wide ? 63 : 27)},${(yH + yL) / 2}) rotate(-90)`)
   .attr('dy', '0.35em').attr('text-anchor', 'middle').attr('font-size', 9.5).text('Strata')
  g.append('text').attr('x', tx(30)).attr('y', axisY + 19).attr('dy', '0.35em')
   .attr('text-anchor', 'middle').attr('font-size', 9.5).text('Time (months)')
}

layout.forEach((cfg, k) => drawPanel(cfg, k))
</script>
</body>
</html>
